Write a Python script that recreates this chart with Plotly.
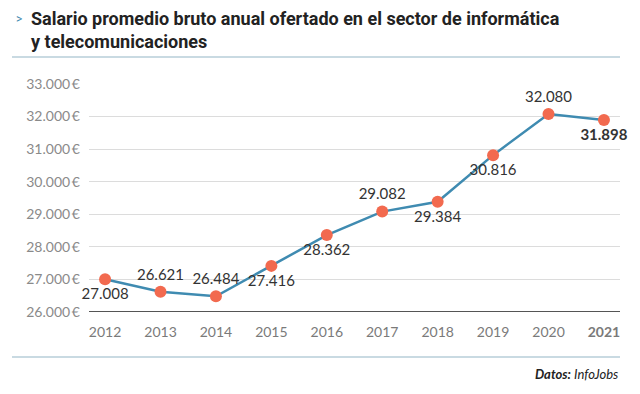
import plotly.graph_objects as go

years = ["2012", "2013", "2014", "2015", "2016", "2017", "2018", "2019", "2020", "2021"]
salaries = [27008, 26621, 26484, 27416, 28362, 29082, 29384, 30816, 32080, 31898]
label_pos = ["bottom center", "top center", "top center", "bottom center", "bottom center",
             "top center", "bottom center", "bottom center", "top center", "bottom center"]
y_ticks = [26000, 27000, 28000, 29000, 30000, 31000, 32000, 33000]
y_tick_text = ["26.000\u2009€", "27.000\u2009€", "28.000\u2009€", "29.000\u2009€",
               "30.000\u2009€", "31.000\u2009€", "32.000\u2009€", "33.000\u2009€"]

def fmt(v):
    return f"{v:,}".replace(",", ".")

labels = [fmt(v) for v in salaries]
labels[-1] = "<b>" + labels[-1] + "</b>"
x_tick_text = years[:-1] + ["<b>" + years[-1] + "</b>"]

fig = go.Figure()
fig.add_trace(go.Scatter(
    x=list(range(len(years))), y=salaries,
    mode="lines+markers+text",
    line=dict(color="#3f8bb1", width=2.5),
    marker=dict(color="#f26a4f", size=12),
    text=labels, textposition=label_pos,
    textfont=dict(family="Lato, sans-serif", size=15, color="#333333"),
    cliponaxis=False, hoverinfo="skip",
))

fig.update_layout(
    width=632, height=386,
    margin=dict(l=81, r=20, t=76, b=82),
    paper_bgcolor="white", plot_bgcolor="white",
    showlegend=False,
    xaxis=dict(
        range=[-0.29, 9.29], tickmode="array",
        tickvals=list(range(len(years))), ticktext=x_tick_text,
        showgrid=False, zeroline=False, showline=False,
        tickfont=dict(family="Lato, sans-serif", size=14, color="#7a7a7a"),
        ticks="", ticklabelstandoff=10,
    ),
    yaxis=dict(
        range=[26000, 33000], tickmode="array",
        tickvals=y_ticks, ticktext=y_tick_text,
        showgrid=True, gridcolor="#dcdcdc", gridwidth=1,
        zeroline=False, showline=False,
        tickfont=dict(family="Lato, sans-serif", size=14, color="#8a8a8a"),
        ticks="", ticklabelstandoff=8,
    ),
)

# bottom axis line
fig.add_shape(type="line", xref="paper", yref="y", x0=0, x1=1, y0=26000, y1=26000,
              line=dict(color="#555555", width=2))
# separator lines
fig.add_shape(type="line", xref="paper", yref="paper", x0=-0.145, x1=1.0, y0=1.118, y1=1.118,
              line=dict(color="#c9dae2", width=2))
fig.add_shape(type="line", xref="paper", yref="paper", x0=-0.145, x1=1.0, y0=-0.197, y1=-0.197,
              line=dict(color="#c9dae2", width=2))

fig.add_annotation(xref="paper", yref="paper", x=-0.141, y=1.285, xanchor="left", yanchor="middle",
                   text=">", showarrow=False,
                   font=dict(family="Roboto, sans-serif", size=12, color="#3f8bb1"))
fig.add_annotation(xref="paper", yref="paper", x=-0.113, y=1.237, xanchor="left", yanchor="middle",
                   align="left",
                   text="<b>Salario promedio bruto anual ofertado en el sector de informática<br>y telecomunicaciones</b>",
                   showarrow=False,
                   font=dict(family="Roboto, sans-serif", size=18, color="#222222"))
fig.add_annotation(xref="paper", yref="paper", x=1.0, y=-0.272, xanchor="right", yanchor="middle",
                   text="<i><b>Datos:</b> InfoJobs</i>", showarrow=False,
                   font=dict(family="Lato, sans-serif", size=13, color="#222222"))

fig.write_html("out.html")
